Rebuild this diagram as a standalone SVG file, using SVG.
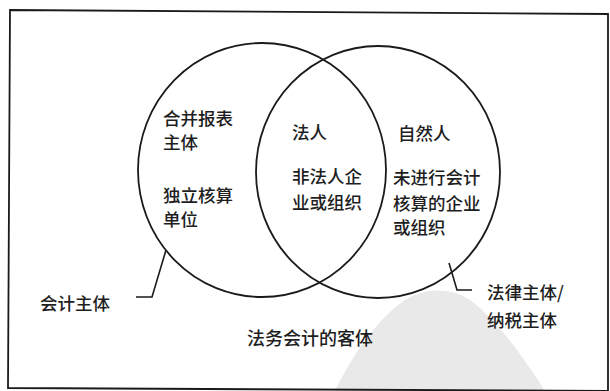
<svg xmlns="http://www.w3.org/2000/svg" width="610" height="391" viewBox="0 0 610 391">
<style>
.t{font-family:"Noto Sans CJK SC","Noto Sans",sans-serif;font-size:17.5px;fill:#1e1e1e;font-weight:500}
.c{fill:none;stroke:#1a1a1a;stroke-width:1.8}
.l{fill:none;stroke:#1a1a1a;stroke-width:1.6}
</style>
<rect width="610" height="391" fill="#ffffff"/>
<path d="M335,391 C350,360 375,320 405,300 C425,288 450,287 470,300 C495,318 520,352 545,391 Z" fill="#e9e9e9"/>
<polygon points="10,10 608,14 608,391 8,388" fill="none" stroke="#1a1a1a" stroke-width="1.8"/>
<g id="accounting-subject">
<ellipse class="c" cx="262" cy="170" rx="124" ry="127"/>
<text class="t" x="163" y="125">合并报表</text>
<text class="t" x="163" y="149">主体</text>
<text class="t" x="163" y="202">独立核算</text>
<text class="t" x="163" y="226">单位</text>
<text class="t" x="40" y="309.5">会计主体</text>
</g>
<g id="legal-subject">
<ellipse class="c" cx="378" cy="172" rx="122" ry="126"/>
<text class="t" x="398" y="139.5">自然人</text>
<text class="t" x="393" y="183.5">未进行会计</text>
<text class="t" x="393" y="209.5">核算的企业</text>
<text class="t" x="393" y="233.5">或组织</text>
<text class="t" x="487" y="298.5">法律主体/</text>
<text class="t" x="487" y="326.5">纳税主体</text>
</g>
<g id="intersection">
<text class="t" x="292" y="138.5">法人</text>
<text class="t" x="292" y="182.5">非法人企</text>
<text class="t" x="292" y="208.5">业或组织</text>
</g>
<g id="object">
<text class="t" x="247" y="344.5" style="font-size:18px">法务会计的客体</text>
</g>
<g id="connectors">
<path class="l" d="M166,250 L152,297 L136,297"/>
<path class="l" d="M449,263 L457,290 L472,290"/>
</g>
</svg>
